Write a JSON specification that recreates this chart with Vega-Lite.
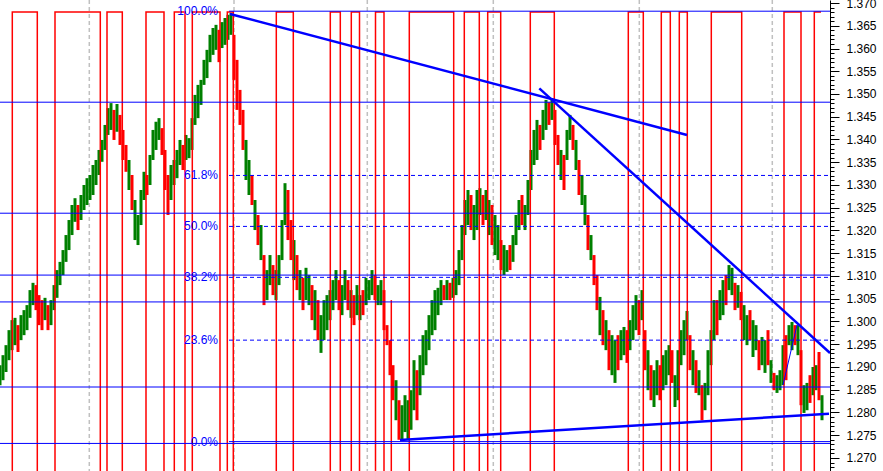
{
"$schema": "https://vega.github.io/schema/vega-lite/v6.json",
"width": 830, "height": 471,
"autosize": {"type": "none"},
"padding": {"left": 0, "top": 0, "right": 53, "bottom": 0},
"background": "white",
"config": {"view": {"stroke": null}},
"datasets": {
"price": [
{"t":0,"h":1.2904,"l":1.2860,"c":"u"},{"t":3,"h":1.2926,"l":1.2871,"c":"u"},{"t":6,"h":1.2948,"l":1.2889,"c":"u"},{"t":9,"h":1.2981,"l":1.2915,"c":"u"},{"t":12,"h":1.3003,"l":1.2937,"c":"u"},{"t":15,"h":1.3008,"l":1.2948,"c":"u"},{"t":18,"h":1.2992,"l":1.2933,"c":"d"},{"t":21,"h":1.3014,"l":1.2959,"c":"u"},{"t":24,"h":1.3025,"l":1.2970,"c":"u"},{"t":27,"h":1.3036,"l":1.2981,"c":"u"},
{"t":30,"h":1.3069,"l":1.3008,"c":"u"},{"t":33,"h":1.3085,"l":1.3036,"c":"u"},{"t":36,"h":1.3080,"l":1.3025,"c":"d"},{"t":39,"h":1.3058,"l":1.2992,"c":"d"},{"t":42,"h":1.3047,"l":1.2981,"c":"d"},{"t":45,"h":1.3052,"l":1.3003,"c":"u"},{"t":48,"h":1.3036,"l":1.2981,"c":"d"},{"t":51,"h":1.3047,"l":1.2992,"c":"u"},{"t":54,"h":1.3080,"l":1.3025,"c":"u"},{"t":57,"h":1.3113,"l":1.3052,"c":"u"},
{"t":60,"h":1.3131,"l":1.3080,"c":"u"},{"t":63,"h":1.3157,"l":1.3102,"c":"u"},{"t":66,"h":1.3190,"l":1.3131,"c":"u"},{"t":69,"h":1.3223,"l":1.3157,"c":"u"},{"t":72,"h":1.3256,"l":1.3190,"c":"u"},{"t":75,"h":1.3271,"l":1.3219,"c":"u"},{"t":78,"h":1.3256,"l":1.3201,"c":"d"},{"t":81,"h":1.3278,"l":1.3223,"c":"u"},{"t":84,"h":1.3300,"l":1.3245,"c":"u"},{"t":87,"h":1.3315,"l":1.3256,"c":"u"},
{"t":90,"h":1.3322,"l":1.3267,"c":"u"},{"t":93,"h":1.3344,"l":1.3278,"c":"u"},{"t":96,"h":1.3355,"l":1.3300,"c":"u"},{"t":99,"h":1.3377,"l":1.3322,"c":"u"},{"t":102,"h":1.3399,"l":1.3351,"c":"u"},{"t":105,"h":1.3432,"l":1.3377,"c":"u"},{"t":108,"h":1.3469,"l":1.3410,"c":"u"},{"t":111,"h":1.3480,"l":1.3421,"c":"u"},{"t":114,"h":1.3465,"l":1.3399,"c":"d"},{"t":117,"h":1.3478,"l":1.3417,"c":"u"},
{"t":120,"h":1.3454,"l":1.3388,"c":"d"},{"t":123,"h":1.3421,"l":1.3355,"c":"d"},{"t":126,"h":1.3388,"l":1.3329,"c":"d"},{"t":129,"h":1.3355,"l":1.3289,"c":"u"},{"t":132,"h":1.3322,"l":1.3245,"c":"d"},{"t":135,"h":1.3267,"l":1.3179,"c":"u"},{"t":138,"h":1.3234,"l":1.3168,"c":"u"},{"t":141,"h":1.3289,"l":1.3212,"c":"u"},{"t":144,"h":1.3329,"l":1.3267,"c":"u"},{"t":147,"h":1.3322,"l":1.3278,"c":"d"},
{"t":150,"h":1.3366,"l":1.3300,"c":"u"},{"t":153,"h":1.3421,"l":1.3355,"c":"u"},{"t":156,"h":1.3439,"l":1.3377,"c":"u"},{"t":159,"h":1.3447,"l":1.3399,"c":"u"},{"t":162,"h":1.3425,"l":1.3366,"c":"d"},{"t":165,"h":1.3377,"l":1.3289,"c":"d"},{"t":168,"h":1.3322,"l":1.3234,"c":"d"},{"t":171,"h":1.3344,"l":1.3267,"c":"u"},{"t":174,"h":1.3355,"l":1.3300,"c":"u"},{"t":177,"h":1.3377,"l":1.3315,"c":"u"},
{"t":180,"h":1.3399,"l":1.3344,"c":"u"},{"t":183,"h":1.3388,"l":1.3333,"c":"d"},{"t":186,"h":1.3410,"l":1.3355,"c":"u"},{"t":189,"h":1.3403,"l":1.3359,"c":"u"},{"t":192,"h":1.3447,"l":1.3377,"c":"u"},{"t":195,"h":1.3498,"l":1.3432,"c":"u"},{"t":198,"h":1.3520,"l":1.3447,"c":"u"},{"t":201,"h":1.3531,"l":1.3476,"c":"u"},{"t":204,"h":1.3575,"l":1.3520,"c":"u"},{"t":207,"h":1.3597,"l":1.3535,"c":"u"},
{"t":210,"h":1.3630,"l":1.3570,"c":"u"},{"t":213,"h":1.3645,"l":1.3586,"c":"u"},{"t":216,"h":1.3652,"l":1.3597,"c":"u"},{"t":219,"h":1.3641,"l":1.3570,"c":"d"},{"t":222,"h":1.3658,"l":1.3601,"c":"u"},{"t":225,"h":1.3667,"l":1.3608,"c":"u"},{"t":228,"h":1.3674,"l":1.3619,"c":"u"},{"t":231,"h":1.3678,"l":1.3630,"c":"u"},{"t":234,"h":1.3630,"l":1.3531,"c":"d"},{"t":237,"h":1.3575,"l":1.3465,"c":"d"},
{"t":240,"h":1.3509,"l":1.3432,"c":"d"},{"t":243,"h":1.3465,"l":1.3377,"c":"d"},{"t":246,"h":1.3399,"l":1.3311,"c":"u"},{"t":249,"h":1.3355,"l":1.3278,"c":"u"},{"t":252,"h":1.3322,"l":1.3256,"c":"d"},{"t":255,"h":1.3267,"l":1.3201,"c":"u"},{"t":258,"h":1.3234,"l":1.3168,"c":"d"},{"t":261,"h":1.3212,"l":1.3135,"c":"u"},{"t":264,"h":1.3146,"l":1.3036,"c":"d"},{"t":267,"h":1.3113,"l":1.3047,"c":"u"},
{"t":270,"h":1.3146,"l":1.3080,"c":"u"},{"t":273,"h":1.3124,"l":1.3058,"c":"d"},{"t":276,"h":1.3113,"l":1.3047,"c":"u"},{"t":279,"h":1.3146,"l":1.3080,"c":"u"},{"t":282,"h":1.3223,"l":1.3135,"c":"u"},{"t":285,"h":1.3304,"l":1.3212,"c":"u"},{"t":288,"h":1.3289,"l":1.3179,"c":"d"},{"t":291,"h":1.3223,"l":1.3135,"c":"d"},{"t":294,"h":1.3179,"l":1.3091,"c":"u"},{"t":297,"h":1.3146,"l":1.3069,"c":"d"},
{"t":300,"h":1.3113,"l":1.3047,"c":"u"},{"t":303,"h":1.3096,"l":1.3025,"c":"d"},{"t":306,"h":1.3118,"l":1.3047,"c":"u"},{"t":309,"h":1.3102,"l":1.3036,"c":"u"},{"t":312,"h":1.3080,"l":1.3003,"c":"d"},{"t":315,"h":1.3069,"l":1.2981,"c":"u"},{"t":318,"h":1.3047,"l":1.2959,"c":"d"},{"t":321,"h":1.3014,"l":1.2931,"c":"u"},{"t":324,"h":1.3047,"l":1.2959,"c":"u"},{"t":327,"h":1.3058,"l":1.2981,"c":"u"},
{"t":330,"h":1.3069,"l":1.3003,"c":"u"},{"t":333,"h":1.3091,"l":1.3025,"c":"u"},{"t":336,"h":1.3113,"l":1.3047,"c":"u"},{"t":339,"h":1.3091,"l":1.3025,"c":"d"},{"t":342,"h":1.3080,"l":1.3014,"c":"u"},{"t":345,"h":1.3113,"l":1.3047,"c":"u"},{"t":348,"h":1.3091,"l":1.3025,"c":"d"},{"t":351,"h":1.3069,"l":1.3008,"c":"u"},{"t":354,"h":1.3058,"l":1.2992,"c":"d"},{"t":357,"h":1.3080,"l":1.3014,"c":"u"},
{"t":360,"h":1.3058,"l":1.3003,"c":"u"},{"t":363,"h":1.3069,"l":1.3014,"c":"d"},{"t":366,"h":1.3096,"l":1.3036,"c":"u"},{"t":369,"h":1.3091,"l":1.3047,"c":"u"},{"t":372,"h":1.3113,"l":1.3058,"c":"u"},{"t":375,"h":1.3102,"l":1.3047,"c":"d"},{"t":378,"h":1.3080,"l":1.3036,"c":"u"},{"t":381,"h":1.3091,"l":1.3036,"c":"u"},{"t":384,"h":1.3069,"l":1.2981,"c":"d"},{"t":387,"h":1.2992,"l":1.2948,"c":"d"},
{"t":390,"h":1.2959,"l":1.2882,"c":"d"},{"t":393,"h":1.2904,"l":1.2827,"c":"d"},{"t":396,"h":1.2871,"l":1.2783,"c":"u"},{"t":399,"h":1.2827,"l":1.2740,"c":"d"},{"t":402,"h":1.2816,"l":1.2740,"c":"u"},{"t":405,"h":1.2838,"l":1.2757,"c":"u"},{"t":408,"h":1.2827,"l":1.2740,"c":"u"},{"t":411,"h":1.2849,"l":1.2762,"c":"u"},{"t":414,"h":1.2915,"l":1.2805,"c":"u"},{"t":417,"h":1.2893,"l":1.2783,"c":"d"},
{"t":420,"h":1.2926,"l":1.2838,"c":"u"},{"t":423,"h":1.2970,"l":1.2882,"c":"u"},{"t":426,"h":1.2981,"l":1.2904,"c":"u"},{"t":429,"h":1.3014,"l":1.2937,"c":"u"},{"t":432,"h":1.3047,"l":1.2970,"c":"u"},{"t":435,"h":1.3069,"l":1.2981,"c":"u"},{"t":438,"h":1.3074,"l":1.3014,"c":"u"},{"t":441,"h":1.3091,"l":1.3036,"c":"u"},{"t":444,"h":1.3080,"l":1.3047,"c":"d"},{"t":447,"h":1.3091,"l":1.3047,"c":"u"},
{"t":450,"h":1.3085,"l":1.3047,"c":"d"},{"t":453,"h":1.3096,"l":1.3052,"c":"u"},{"t":456,"h":1.3113,"l":1.3058,"c":"u"},{"t":459,"h":1.3157,"l":1.3080,"c":"u"},{"t":462,"h":1.3212,"l":1.3135,"c":"u"},{"t":465,"h":1.3267,"l":1.3190,"c":"u"},{"t":468,"h":1.3289,"l":1.3212,"c":"u"},{"t":471,"h":1.3278,"l":1.3201,"c":"d"},{"t":474,"h":1.3256,"l":1.3179,"c":"u"},{"t":477,"h":1.3289,"l":1.3201,"c":"u"},
{"t":480,"h":1.3293,"l":1.3234,"c":"u"},{"t":483,"h":1.3278,"l":1.3212,"c":"d"},{"t":486,"h":1.3289,"l":1.3223,"c":"u"},{"t":489,"h":1.3267,"l":1.3190,"c":"u"},{"t":492,"h":1.3256,"l":1.3168,"c":"d"},{"t":495,"h":1.3234,"l":1.3146,"c":"u"},{"t":498,"h":1.3212,"l":1.3135,"c":"u"},{"t":501,"h":1.3179,"l":1.3113,"c":"d"},{"t":504,"h":1.3168,"l":1.3102,"c":"u"},{"t":507,"h":1.3157,"l":1.3109,"c":"u"},
{"t":510,"h":1.3168,"l":1.3113,"c":"d"},{"t":513,"h":1.3190,"l":1.3131,"c":"u"},{"t":516,"h":1.3234,"l":1.3168,"c":"u"},{"t":519,"h":1.3267,"l":1.3201,"c":"u"},{"t":522,"h":1.3278,"l":1.3212,"c":"d"},{"t":525,"h":1.3256,"l":1.3201,"c":"u"},{"t":528,"h":1.3311,"l":1.3234,"c":"u"},{"t":531,"h":1.3377,"l":1.3289,"c":"u"},{"t":534,"h":1.3421,"l":1.3344,"c":"u"},{"t":537,"h":1.3443,"l":1.3355,"c":"u"},
{"t":540,"h":1.3432,"l":1.3377,"c":"d"},{"t":543,"h":1.3465,"l":1.3399,"c":"u"},{"t":546,"h":1.3487,"l":1.3421,"c":"u"},{"t":549,"h":1.3482,"l":1.3432,"c":"d"},{"t":552,"h":1.3491,"l":1.3443,"c":"u"},{"t":555,"h":1.3465,"l":1.3388,"c":"d"},{"t":558,"h":1.3410,"l":1.3344,"c":"d"},{"t":561,"h":1.3377,"l":1.3311,"c":"u"},{"t":564,"h":1.3366,"l":1.3289,"c":"d"},{"t":567,"h":1.3421,"l":1.3355,"c":"u"},
{"t":570,"h":1.3454,"l":1.3399,"c":"u"},{"t":573,"h":1.3432,"l":1.3377,"c":"d"},{"t":576,"h":1.3399,"l":1.3333,"c":"u"},{"t":579,"h":1.3355,"l":1.3278,"c":"d"},{"t":582,"h":1.3322,"l":1.3256,"c":"u"},{"t":585,"h":1.3278,"l":1.3212,"c":"u"},{"t":588,"h":1.3234,"l":1.3157,"c":"d"},{"t":591,"h":1.3190,"l":1.3135,"c":"u"},{"t":594,"h":1.3146,"l":1.3080,"c":"d"},{"t":597,"h":1.3102,"l":1.3025,"c":"d"},
{"t":600,"h":1.3054,"l":1.2970,"c":"u"},{"t":603,"h":1.3025,"l":1.2948,"c":"d"},{"t":606,"h":1.3003,"l":1.2937,"c":"u"},{"t":609,"h":1.2981,"l":1.2893,"c":"d"},{"t":612,"h":1.2970,"l":1.2882,"c":"u"},{"t":615,"h":1.2959,"l":1.2865,"c":"u"},{"t":618,"h":1.2970,"l":1.2893,"c":"d"},{"t":621,"h":1.2981,"l":1.2915,"c":"u"},{"t":624,"h":1.2988,"l":1.2926,"c":"u"},{"t":627,"h":1.2981,"l":1.2909,"c":"d"},
{"t":630,"h":1.3003,"l":1.2937,"c":"u"},{"t":633,"h":1.3036,"l":1.2959,"c":"u"},{"t":636,"h":1.3058,"l":1.2981,"c":"u"},{"t":639,"h":1.3047,"l":1.2970,"c":"d"},{"t":642,"h":1.3069,"l":1.3003,"c":"u"},{"t":645,"h":1.2981,"l":1.2893,"c":"d"},{"t":648,"h":1.2937,"l":1.2849,"c":"u"},{"t":651,"h":1.2904,"l":1.2827,"c":"d"},{"t":654,"h":1.2893,"l":1.2812,"c":"u"},{"t":657,"h":1.2915,"l":1.2838,"c":"u"},
{"t":660,"h":1.2904,"l":1.2827,"c":"d"},{"t":663,"h":1.2926,"l":1.2849,"c":"u"},{"t":666,"h":1.2937,"l":1.2860,"c":"u"},{"t":669,"h":1.2948,"l":1.2882,"c":"u"},{"t":672,"h":1.2937,"l":1.2865,"c":"d"},{"t":675,"h":1.2882,"l":1.2812,"c":"u"},{"t":678,"h":1.2937,"l":1.2827,"c":"u"},{"t":681,"h":1.2981,"l":1.2904,"c":"u"},{"t":684,"h":1.3003,"l":1.2926,"c":"u"},{"t":687,"h":1.3023,"l":1.2959,"c":"u"},
{"t":690,"h":1.2970,"l":1.2893,"c":"d"},{"t":693,"h":1.2937,"l":1.2860,"c":"u"},{"t":696,"h":1.2915,"l":1.2843,"c":"d"},{"t":699,"h":1.2893,"l":1.2838,"c":"u"},{"t":702,"h":1.2860,"l":1.2783,"c":"d"},{"t":705,"h":1.2865,"l":1.2805,"c":"u"},{"t":708,"h":1.2937,"l":1.2838,"c":"u"},{"t":711,"h":1.2981,"l":1.2904,"c":"u"},{"t":714,"h":1.3047,"l":1.2959,"c":"u"},{"t":717,"h":1.3047,"l":1.2970,"c":"d"},
{"t":720,"h":1.3069,"l":1.3003,"c":"u"},{"t":723,"h":1.3091,"l":1.3014,"c":"u"},{"t":726,"h":1.3102,"l":1.3036,"c":"d"},{"t":729,"h":1.3124,"l":1.3069,"c":"u"},{"t":732,"h":1.3118,"l":1.3058,"c":"u"},{"t":735,"h":1.3085,"l":1.3025,"c":"d"},{"t":738,"h":1.3080,"l":1.3030,"c":"u"},{"t":741,"h":1.3065,"l":1.3003,"c":"d"},{"t":744,"h":1.3036,"l":1.2959,"c":"u"},{"t":747,"h":1.3014,"l":1.2948,"c":"u"},
{"t":750,"h":1.3025,"l":1.2959,"c":"d"},{"t":753,"h":1.3003,"l":1.2922,"c":"u"},{"t":756,"h":1.2992,"l":1.2937,"c":"u"},{"t":759,"h":1.2959,"l":1.2893,"c":"d"},{"t":762,"h":1.2966,"l":1.2904,"c":"u"},{"t":765,"h":1.2959,"l":1.2887,"c":"u"},{"t":768,"h":1.2981,"l":1.2904,"c":"d"},{"t":771,"h":1.2915,"l":1.2865,"c":"u"},{"t":774,"h":1.2887,"l":1.2849,"c":"d"},{"t":777,"h":1.2882,"l":1.2843,"c":"u"},
{"t":780,"h":1.2893,"l":1.2849,"c":"u"},{"t":783,"h":1.2948,"l":1.2860,"c":"u"},{"t":786,"h":1.2970,"l":1.2871,"c":"d"},{"t":789,"h":1.2992,"l":1.2948,"c":"u"},{"t":792,"h":1.2999,"l":1.2937,"c":"u"},{"t":795,"h":1.2992,"l":1.2948,"c":"d"},{"t":798,"h":1.2992,"l":1.2926,"c":"u"},{"t":801,"h":1.2937,"l":1.2816,"c":"d"},{"t":804,"h":1.2860,"l":1.2799,"c":"u"},{"t":807,"h":1.2865,"l":1.2805,"c":"u"},
{"t":810,"h":1.2882,"l":1.2821,"c":"d"},{"t":813,"h":1.2900,"l":1.2838,"c":"u"},{"t":816,"h":1.2904,"l":1.2849,"c":"u"},{"t":819,"h":1.2933,"l":1.2827,"c":"d"},{"t":822,"h":1.2838,"l":1.2783,"c":"u"}
],
"wave": [
{"t":0,"w":1.25},{"t":12.3,"w":1.368},{"t":37.3,"w":1.25},{"t":55,"w":1.368},{"t":100.3,"w":1.25},{"t":107,"w":1.368},{"t":122.3,"w":1.25},{"t":146,"w":1.368},{"t":164,"w":1.25},{"t":174.3,"w":1.368},{"t":185,"w":1.25},{"t":192.3,"w":1.368},{"t":220,"w":1.25},{"t":227.3,"w":1.368},{"t":233.3,"w":1.25},{"t":276.3,"w":1.368},{"t":293.3,"w":1.25},{"t":330.3,"w":1.368},{"t":340.3,"w":1.25},{"t":351.3,"w":1.368},{"t":359.5,"w":1.25},{"t":375.5,"w":1.368},{"t":384,"w":1.25},{"t":409.3,"w":1.368},{"t":453.7,"w":1.25},{"t":464.3,"w":1.368},{"t":479.3,"w":1.25},{"t":487.7,"w":1.368},{"t":500.7,"w":1.25},{"t":530.3,"w":1.368},{"t":554.3,"w":1.25},{"t":628.3,"w":1.368},{"t":643.3,"w":1.25},{"t":661.3,"w":1.368},{"t":670.3,"w":1.25},{"t":679.3,"w":1.368},{"t":687.3,"w":1.25},{"t":711.3,"w":1.368},{"t":741.7,"w":1.25},{"t":784,"w":1.368},{"t":801,"w":1.25},{"t":814.3,"w":1.368},{"t":821,"w":1.368}
],
"extra": [{"t":391.3,"a":1.3047,"b":1.25}],
"vlines": [{"t":89.3},{"t":234},{"t":367.3},{"t":493.3},{"t":639.3},{"t":772.3}],
"hlines": [{"v":1.3482},{"v":1.3238},{"v":1.3102},{"v":1.3043},{"v":1.2856},{"v":1.2732}],
"fib": [
{"a":229,"b":830,"v":1.3682,"s":"100.0%","k":"solid"},
{"a":229,"b":830,"v":1.3321,"s":"61.8%","k":"dash"},
{"a":229,"b":830,"v":1.3209,"s":"50.0%","k":"dash"},
{"a":229,"b":830,"v":1.3097,"s":"38.2%","k":"dash"},
{"a":229,"b":830,"v":1.2959,"s":"23.6%","k":"dash"},
{"a":229,"b":830,"v":1.2736,"s":"0.0%","k":"solid"}
],
"trend": [
{"id":"A","t":230,"v":1.3676},{"id":"A","t":687,"v":1.3410},
{"id":"B","t":539.3,"v":1.35125},{"id":"B","t":830,"v":1.29308},
{"id":"C","t":400,"v":1.27396},{"id":"C","t":829,"v":1.27974}
],
"thin": [{"t":783,"v":1.28604},{"t":797,"v":1.29923}]
},
"layer": [
{
"data": {"name": "vlines"},
"mark": {"type": "rule", "color": "#c0c0c0", "strokeWidth": 1.5, "strokeDash": [4, 3]},
"encoding": {
"x": {"field": "t", "type": "quantitative", "axis": null, "scale": {"domain": [0, 830], "nice": false, "zero": false}}
}
},
{
"data": {"name": "price"},
"mark": {"type": "rule", "strokeWidth": 3, "clip": true},
"encoding": {
"x": {"field": "t", "type": "quantitative", "axis": null, "scale": {"domain": [0, 830], "nice": false, "zero": false}},
"y": {"field": "l", "type": "quantitative", "title": null,
"scale": {"domain": [1.26714, 1.37066], "nice": false, "zero": false},
"axis": {"orient": "right", "title": null, "tickCount": 104, "grid": false,
"domainColor": "black", "domainWidth": 1, "tickColor": "black", "tickWidth": 1,
"tickSize": {"condition": {"test": "round(datum.value*1000)%5===0", "value": 9}, "value": 4},
"labelExpr": "round(datum.value*1000)%5===0 ? format(datum.value,'.3f') : ''",
"labelFont": "Liberation Sans", "labelFontSize": 12, "labelColor": "black", "labelPadding": 7,
"labelOverlap": false, "labelBound": false, "labelFlush": false}},
"y2": {"field": "h"},
"color": {"field": "c", "type": "nominal", "legend": null, "scale": {"domain": ["u", "d"], "range": ["#008000", "#ff0000"]}}
}
},
{
"data": {"name": "wave"},
"mark": {"type": "line", "interpolate": "step-after", "color": "#ff0000", "strokeWidth": 1.5, "clip": true},
"encoding": {
"x": {"field": "t", "type": "quantitative", "axis": null, "scale": {"domain": [0, 830], "nice": false, "zero": false}},
"y": {"field": "w", "type": "quantitative", "title": null, "scale": {"domain": [1.26714, 1.37066], "nice": false, "zero": false}}
}
},
{
"data": {"name": "extra"},
"mark": {"type": "rule", "color": "#ff0000", "strokeWidth": 1.5, "clip": true},
"encoding": {
"x": {"field": "t", "type": "quantitative", "axis": null, "scale": {"domain": [0, 830], "nice": false, "zero": false}},
"y": {"field": "a", "type": "quantitative", "title": null, "scale": {"domain": [1.26714, 1.37066], "nice": false, "zero": false}},
"y2": {"field": "b"}
}
},
{
"data": {"name": "hlines"},
"mark": {"type": "rule", "color": "#0000ff", "strokeWidth": 1},
"encoding": {
"y": {"field": "v", "type": "quantitative", "title": null, "scale": {"domain": [1.26714, 1.37066], "nice": false, "zero": false}}
}
},
{
"data": {"name": "fib"},
"mark": {"type": "rule", "color": "#0000ff", "strokeWidth": 1},
"encoding": {
"x": {"field": "a", "type": "quantitative", "axis": null, "scale": {"domain": [0, 830], "nice": false, "zero": false}},
"x2": {"field": "b"},
"y": {"field": "v", "type": "quantitative", "title": null, "scale": {"domain": [1.26714, 1.37066], "nice": false, "zero": false}},
"strokeDash": {"field": "k", "type": "nominal", "legend": null, "scale": {"domain": ["solid", "dash"], "range": [[1, 0], [4, 3]]}}
}
},
{
"data": {"name": "fib"},
"mark": {"type": "text", "color": "#0000ff", "font": "Liberation Sans", "fontSize": 12, "align": "right", "baseline": "middle", "dx": -11},
"encoding": {
"x": {"field": "a", "type": "quantitative", "axis": null, "scale": {"domain": [0, 830], "nice": false, "zero": false}},
"y": {"field": "v", "type": "quantitative", "title": null, "scale": {"domain": [1.26714, 1.37066], "nice": false, "zero": false}},
"text": {"field": "s"}
}
},
{
"data": {"name": "trend"},
"mark": {"type": "line", "color": "#0000ff", "strokeWidth": 2.5, "clip": true},
"encoding": {
"x": {"field": "t", "type": "quantitative", "axis": null, "scale": {"domain": [0, 830], "nice": false, "zero": false}},
"y": {"field": "v", "type": "quantitative", "title": null, "scale": {"domain": [1.26714, 1.37066], "nice": false, "zero": false}},
"detail": {"field": "id"}
}
},
{
"data": {"name": "thin"},
"mark": {"type": "line", "color": "#0000ff", "strokeWidth": 1, "clip": true},
"encoding": {
"x": {"field": "t", "type": "quantitative", "axis": null, "scale": {"domain": [0, 830], "nice": false, "zero": false}},
"y": {"field": "v", "type": "quantitative", "title": null, "scale": {"domain": [1.26714, 1.37066], "nice": false, "zero": false}}
}
}
]
}
